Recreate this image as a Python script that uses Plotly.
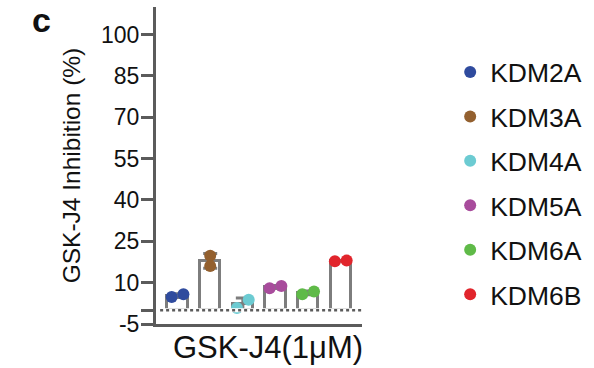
import plotly.graph_objects as go
import numpy as np

genes = ["KDM2A", "KDM3A", "KDM4A", "KDM5A", "KDM6A", "KDM6B"]
rep1 = [4.8, 19.8, 0.8, 8.0, 5.8, 17.8]
rep2 = [5.8, 16.0, 3.8, 8.8, 6.8, 18.0]
colors = ["#2f4b9e", "#93602f", "#6ccbd2", "#a84c9c", "#5fba48", "#e1252c"]
y_ticks = [-5, 0, 10, 25, 40, 55, 70, 85, 100]
y_ticktext = ["-5", "", "10", "25", "40", "55", "70", "85", "100"]
x_label = "GSK-J4(1μM)"
y_label = "GSK-J4 Inhibition (%)"

FONT = "Liberation Sans, Arial, Helvetica, sans-serif"
AX = "#5b5b5b"
BAR = "#7d7d7d"

reps = np.array([rep1, rep2])
means = reps.mean(axis=0)
sds = reps.std(axis=0, ddof=1)
xpos = np.arange(len(genes))

fig = go.Figure()
fig.add_trace(go.Bar(
    x=xpos, y=means, width=0.62,
    marker=dict(color="white", line=dict(color=BAR, width=3)),
    error_y=dict(type="data", array=sds, color=BAR, thickness=3, width=7),
    showlegend=False, hoverinfo="skip",
))

for i, g in enumerate(genes):
    a, b = rep1[i], rep2[i]
    # spread horizontally only when points would overlap
    spread = 0.18 if abs(a - b) < 3.5 else 0.0
    fig.add_trace(go.Scatter(
        x=[i - spread, i + spread], y=[a, b], mode="markers",
        marker=dict(color=colors[i], size=12, line=dict(width=0)),
        name=g, legendgroup=g,
    ))

# hide bar bottoms, then dotted baseline at 0
fig.add_shape(type="line", xref="paper", yref="y", x0=0.01, x1=1.0, y0=0, y1=0,
              line=dict(color="white", width=4), layer="above")
fig.add_shape(type="line", xref="paper", yref="y", x0=0.02, x1=1.0, y0=0, y1=0,
              line=dict(color=AX, width=2.5, dash="dot"), layer="above")

fig.add_annotation(text="<b>c</b>", xref="paper", yref="paper", x=-0.555, y=0.96,
                   showarrow=False, font=dict(family=FONT, size=34, color="#111"),
                   xanchor="center", yanchor="middle")

fig.add_annotation(text=x_label, xref="paper", yref="paper", x=0.543, y=-0.075,
                   showarrow=False, font=dict(family=FONT, size=31, color="#111"),
                   xanchor="center", yanchor="middle")

fig.update_layout(
    width=594, height=368,
    margin=dict(l=156, r=224, t=7, b=44),
    paper_bgcolor="white", plot_bgcolor="white",
    bargap=0,
    font=dict(family=FONT, color="#111"),
    legend=dict(x=1.428, y=0.87, xanchor="left", yanchor="top",
                font=dict(family=FONT, size=26.5, color="#111"),
                tracegroupgap=7, itemsizing="constant"),
    xaxis=dict(range=[-0.66, 5.65], showline=True, linecolor=AX, linewidth=3,
               showticklabels=False, ticks="", showgrid=False, zeroline=False),
    yaxis=dict(range=[-5, 110], showline=True, linecolor=AX, linewidth=3,
               tickvals=y_ticks, ticktext=y_ticktext, ticks="outside",
               ticklen=12, tickwidth=3, tickcolor=AX, showgrid=False, zeroline=False,
               ticklabelstandoff=-3,
               tickfont=dict(family=FONT, size=23, color="#111"),
               title=dict(text=y_label, font=dict(family=FONT, size=24.5, color="#111"),
                          standoff=14)),
)

fig.write_html("out.html")
